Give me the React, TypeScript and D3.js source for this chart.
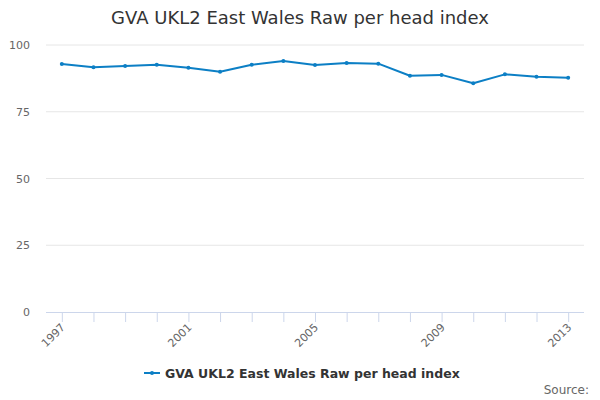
import React from 'react';
import * as d3 from 'd3';

const years = ['1997', '1998', '1999', '2000', '2001', '2002', '2003', '2004', '2005', '2006', '2007', '2008', '2009', '2010', '2011', '2012', '2013'];
const values = [92.9, 91.7, 92.1, 92.6, 91.5, 90.0, 92.6, 94.0, 92.5, 93.3, 93.0, 88.5, 88.8, 85.7, 89.0, 88.1, 87.7];
const yTicks = [0, 25, 50, 75, 100];
const labelledYears = ['1997', '2001', '2005', '2009', '2013'];

const title = 'GVA UKL2 East Wales Raw per head index';
const seriesName = 'GVA UKL2 East Wales Raw per head index';

const width = 600;
const height = 400;
const font = '"DejaVu Sans", sans-serif';
const lineColor = '#0c7fc5';

function App() {
  const left = 46;
  const right = 584;
  const top = 45;
  const bottom = 312;

  const x = d3.scalePoint<string>().domain(years).range([left, right]).padding(0.5);
  const y = d3.scaleLinear().domain([0, 100]).range([bottom, top]);

  const line = d3
    .line<number>()
    .x((_, i) => x(years[i]) as number)
    .y(d => y(d));

  return (
    <svg width={width} height={height} style={{ position: 'absolute', left: 0, top: 0 }} fontFamily={font}>
      <rect width={width} height={height} fill="#fff" />
      <text x={width / 2} y={24} textAnchor="middle" fontSize={18} fill="#333">{title}</text>

      {yTicks.map(t => (
        <g key={t}>
          {t > 0 && <line x1={left} x2={right} y1={y(t)} y2={y(t)} stroke="#e6e6e6" />}
          <text x={30} y={y(t) + 4} textAnchor="end" fontSize={11} fill="#666">{t}</text>
        </g>
      ))}

      <line x1={left} x2={right} y1={bottom + 0.5} y2={bottom + 0.5} stroke="#ccd6eb" />
      {years.map(yr => (
        <line key={yr} x1={(x(yr) as number) + 0.5} x2={(x(yr) as number) + 0.5} y1={bottom} y2={bottom + 10} stroke="#ccd6eb" />
      ))}

      {labelledYears.map(yr => {
        const px = x(yr) as number;
        return (
          <text
            key={yr}
            transform={`translate(${px + 4},${bottom + 16}) rotate(-45)`}
            textAnchor="end"
            fontSize={11}
            fill="#666"
          >
            {yr}
          </text>
        );
      })}

      <path d={line(values) ?? ''} fill="none" stroke={lineColor} strokeWidth={2} strokeLinejoin="round" strokeLinecap="round" />
      {values.map((v, i) => (
        <circle key={i} cx={x(years[i]) as number} cy={y(v)} r={2} fill={lineColor} />
      ))}

      <g transform="translate(144,373)">
        <line x1={0} x2={16} y1={0} y2={0} stroke={lineColor} strokeWidth={2} />
        <circle cx={8} cy={0} r={2} fill={lineColor} />
        <text x={21} y={5} fontSize={12.5} fontWeight="bold" fill="#333">{seriesName}</text>
      </g>

      <text x={589} y={394} textAnchor="end" fontSize={12} fill="#666">Source:</text>
    </svg>
  );
}

export default App;
